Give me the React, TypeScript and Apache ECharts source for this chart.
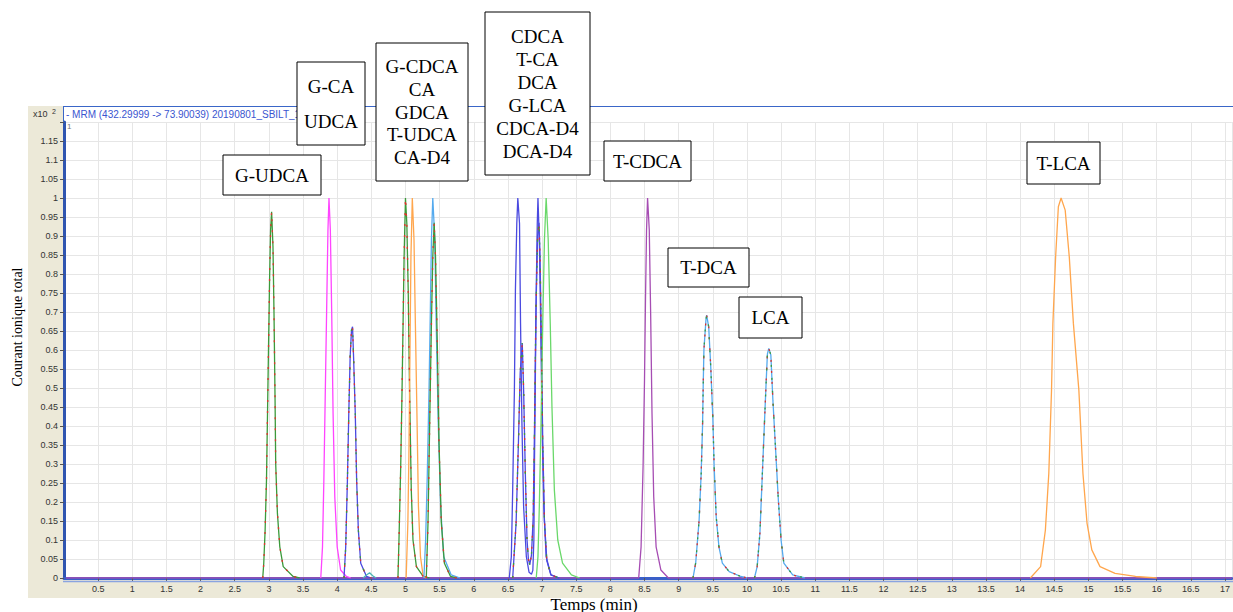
import React, { useEffect, useRef } from "react";
import * as echarts from "echarts";

// ---- data (time in min, intensity x10^2) ----
const xTicksInterval = 0.5;
const yTicksInterval = 0.05;

const gUdca = [[2.91,0],[2.925,0.039],[2.945,0.126],[2.965,0.258],[2.98,0.433],[2.995,0.609],[3.01,0.784],[3.025,0.916],[3.04,0.964],[3.06,0.872],[3.075,0.697],[3.09,0.477],[3.10,0.30],[3.125,0.17],[3.16,0.082],[3.21,0.03],[3.355,0.004],[3.45,0]];
const gCa = [[3.76,0],[3.785,0.082],[3.805,0.258],[3.825,0.477],[3.845,0.697],[3.865,0.916],[3.88,1.0],[3.90,0.916],[3.92,0.697],[3.94,0.433],[3.965,0.214],[4.0,0.082],[4.05,0.021],[4.135,0.004],[4.2,0]];
const udca = [[4.10,0],[4.125,0.082],[4.15,0.258],[4.17,0.433],[4.19,0.582],[4.21,0.653],[4.225,0.661],[4.24,0.582],[4.265,0.433],[4.285,0.258],[4.31,0.126],[4.345,0.039],[4.43,0.004],[4.5,0]];
const bump = [[4.38,0],[4.43,0.008],[4.475,0.014],[4.52,0.006],[4.57,0]];
const gCdca = [[4.89,0],[4.905,0.1],[4.93,0.29],[4.95,0.495],[4.965,0.67],[4.98,0.845],[5.0,1.0],[5.02,0.933],[5.04,0.758],[5.06,0.495],[5.085,0.232],[5.11,0.1],[5.16,0.03],[5.26,0.004],[5.35,0]];
const ca = [[5.01,0],[5.035,0.145],[5.05,0.32],[5.065,0.58],[5.08,0.845],[5.10,1.0],[5.125,0.89],[5.145,0.67],[5.17,0.41],[5.19,0.188],[5.22,0.056],[5.26,0.004],[5.3,0]];
const tUdca = [[5.27,0],[5.295,0.1],[5.32,0.275],[5.345,0.495],[5.365,0.714],[5.38,0.89],[5.40,1.0],[5.43,0.89],[5.45,0.67],[5.48,0.41],[5.515,0.188],[5.56,0.056],[5.67,0.008],[5.8,0]];
const gdca = [[5.305,0],[5.33,0.145],[5.355,0.41],[5.38,0.67],[5.40,0.845],[5.42,0.935],[5.44,0.845],[5.465,0.626],[5.49,0.363],[5.525,0.145],[5.57,0.039],[5.66,0.004],[5.75,0]];
const cdca = [[6.52,0],[6.55,0.056],[6.57,0.232],[6.595,0.495],[6.61,0.758],[6.63,0.933],[6.645,1.0],[6.67,0.933],[6.685,0.67],[6.705,0.41],[6.73,0.188],[6.77,0.056],[6.81,0.015],[6.845,0.01],[6.865,0.02],[6.88,0.1],[6.89,0.32],[6.90,0.495],[6.915,0.758],[6.93,0.933],[6.94,1.0],[6.96,0.89],[6.98,0.67],[7.0,0.41],[7.025,0.188],[7.06,0.056],[7.13,0.008],[7.25,0]];
const cdcaD4 = [[6.57,0],[6.62,0.145],[6.655,0.363],[6.68,0.54],[6.71,0.618],[6.73,0.495],[6.755,0.275],[6.78,0.10],[6.80,0.05],[6.82,0.035],[6.845,0.06],[6.87,0.16],[6.89,0.40],[6.91,0.70],[6.935,0.90],[6.955,0.935],[6.97,0.85],[6.99,0.62],[7.01,0.36],[7.035,0.15],[7.07,0.045],[7.13,0.008],[7.25,0]];
const gLca = [[6.915,0],[6.94,0.056],[6.96,0.188],[6.985,0.41],[7.01,0.67],[7.035,0.89],[7.06,1.0],[7.09,0.89],[7.12,0.67],[7.145,0.45],[7.18,0.232],[7.23,0.1],[7.30,0.039],[7.43,0.008],[7.55,0]];
const tCdca = [[0.03,0],[8.415,0],[8.45,0.082],[8.48,0.30],[8.50,0.52],[8.515,0.74],[8.53,0.916],[8.545,1.0],[8.57,0.916],[8.59,0.697],[8.61,0.433],[8.635,0.214],[8.67,0.082],[8.74,0.021],[8.85,0],[17.1,0]];
const tDca = [[9.21,0],[9.25,0.04],[9.30,0.153],[9.33,0.275],[9.35,0.40],[9.36,0.51],[9.37,0.60],[9.40,0.68],[9.41,0.692],[9.44,0.661],[9.47,0.556],[9.50,0.424],[9.52,0.293],[9.55,0.161],[9.59,0.082],[9.64,0.039],[9.74,0.017],[9.91,0.004],[10.0,0]];
const lca = [[10.11,0],[10.15,0.03],[10.19,0.118],[10.22,0.249],[10.25,0.38],[10.28,0.51],[10.30,0.59],[10.32,0.604],[10.35,0.587],[10.38,0.468],[10.42,0.337],[10.46,0.205],[10.50,0.10],[10.54,0.039],[10.67,0.008],[10.85,0]];
const tLca = [[14.15,0],[14.30,0.03],[14.37,0.126],[14.42,0.275],[14.46,0.495],[14.48,0.67],[14.52,0.845],[14.56,0.977],[14.60,1.0],[14.66,0.968],[14.72,0.845],[14.78,0.67],[14.86,0.495],[14.92,0.275],[14.98,0.144],[15.05,0.074],[15.17,0.03],[15.39,0.012],[15.69,0.004],[16.0,0]];

const boxLabels = [
  ["G-UDCA"],
  ["G-CA", "UDCA"],
  ["G-CDCA", "CA", "GDCA", "T-UDCA", "CA-D4"],
  ["CDCA", "T-CA", "DCA", "G-LCA", "CDCA-D4", "DCA-D4"],
  ["T-CDCA"],
  ["T-DCA"],
  ["LCA"],
  ["T-LCA"],
];

const C = {
  green: "#3b9a3b",
  red: "#e0302a",
  magenta: "#ff44ff",
  blue: "#4a4ae0",
  orange: "#ffa64d",
  lightblue: "#55aaee",
  lime: "#6ad86a",
  purple: "#a64db3",
  teal: "#4bb5b5",
};

const SERIF = '"Liberation Serif", "Times New Roman", serif';
const SANS = '"Liberation Sans", Arial, sans-serif';

function line(name: string, data: number[][], color: string, width = 1.3, dash: any = "solid", z = 2) {
  return {
    type: "line",
    name,
    data,
    showSymbol: false,
    symbol: "none",
    z,
    lineStyle: { color, width, type: dash },
    emphasis: { disabled: true },
  };
}

function box(x: number, y: number, w: number, h: number, lines: string[], lh: number) {
  return {
    type: "group",
    z: 100,
    children: [
      {
        type: "rect",
        z: 100,
        shape: { x, y, width: w, height: h },
        style: { fill: "#fff", stroke: "#000", lineWidth: 1 },
      },
      {
        type: "text",
        z: 101,
        x: x + w / 2,
        y: y + h / 2,
        style: {
          text: lines.join("\n"),
          font: "19px " + SERIF,
          fill: "#000",
          textAlign: "center",
          align: "center",
          textVerticalAlign: "middle",
          verticalAlign: "middle",
          lineHeight: lh,
        },
      },
    ],
  };
}

export default function App() {
  const ref = useRef<HTMLDivElement>(null);
  useEffect(() => {
    if (!ref.current) return;
    const chart = echarts.init(ref.current, undefined, { renderer: "svg" });
    const dashRed = [2, 9];
    const dashGreen = [2, 11];
    chart.setOption({
      animation: false,
      backgroundColor: "#fff",
      grid: { left: 64, right: 0, top: 122, bottom: 34, containLabel: false },
      xAxis: {
        type: "value",
        min: 0,
        max: 17.1,
        interval: xTicksInterval,
        axisLine: { show: true, onZero: false, lineStyle: { color: "#3a5fc8", width: 3 } },
        axisTick: { show: true, length: 4, lineStyle: { color: "#555" } },
        axisLabel: {
          fontSize: 9,
          color: "#333",
          fontFamily: SANS,
          margin: 6,
          showMinLabel: false,
          showMaxLabel: false,
          formatter: (v: number) => String(Math.round(v * 10) / 10),
        },
        splitLine: { show: true, lineStyle: { color: "#e6e6e6", width: 1 } },
      },
      yAxis: {
        type: "value",
        min: 0,
        max: 1.2,
        interval: yTicksInterval,
        axisLine: { show: true, onZero: false, lineStyle: { color: "#2f55b0", width: 3 } },
        axisTick: { show: true, length: 4, lineStyle: { color: "#555" } },
        axisLabel: {
          fontSize: 9,
          color: "#333",
          fontFamily: SANS,
          margin: 6,
          formatter: (v: number) => (v > 1.16 ? "" : String(Math.round(v * 100) / 100)),
        },
        splitLine: { show: true, lineStyle: { color: "#e6e6e6", width: 1 } },
      },
      series: [
        line("T-CDCA", tCdca, C.purple),
        line("G-UDCA", gUdca, C.green),
        line("G-UDCA r", gUdca, C.red, 1.3, dashRed, 3),
        line("G-CA", gCa, C.magenta),
        line("UDCA", udca, C.blue),
        line("UDCA r", udca, C.red, 1.3, dashRed, 3),
        line("UDCA g", udca, C.green, 1.3, dashGreen, 3),
        line("bump", bump, C.teal),
        line("G-CDCA", gCdca, C.green),
        line("G-CDCA r", gCdca, C.red, 1.3, dashRed, 3),
        line("CA", ca, C.orange),
        line("T-UDCA", tUdca, C.lightblue),
        line("GDCA", gdca, C.green, 1.3, "solid", 3),
        line("GDCA r", gdca, C.red, 1.3, dashRed, 4),
        line("CDCA", cdca, C.blue),
        line("CDCA-D4", cdcaD4, C.blue),
        line("CDCA-D4 r", cdcaD4, C.red, 1.3, dashRed, 3),
        line("CDCA-D4 g", cdcaD4, C.green, 1.3, dashGreen, 3),
        line("G-LCA", gLca, C.lime),
        line("T-DCA", tDca, C.lightblue),
        line("T-DCA r", tDca, C.red, 1.3, dashRed, 3),
        line("T-DCA g", tDca, C.green, 1.3, dashGreen, 3),
        line("LCA", lca, C.lightblue),
        line("LCA r", lca, C.red, 1.3, dashRed, 3),
        line("LCA g", lca, C.green, 1.3, dashGreen, 3),
        line("T-LCA", tLca, C.orange),
      ],
      graphic: [
        { type: "rect", z: -20, silent: true, shape: { x: 28, y: 106, width: 1205, height: 492 }, style: { fill: "#ece9d8" } },
        { type: "rect", z: -19, silent: true, shape: { x: 63, y: 106, width: 1170, height: 473 }, style: { fill: "#fff" } },
        { type: "line", z: 5, silent: true, shape: { x1: 63, y1: 106.5, x2: 1233, y2: 106.5 }, style: { stroke: "#3a66c8", lineWidth: 1 } },
        { type: "line", z: 5, silent: true, shape: { x1: 63.5, y1: 106, x2: 63.5, y2: 122 }, style: { stroke: "#3a66c8", lineWidth: 1 } },
        { type: "line", z: 5, silent: true, shape: { x1: 63, y1: 581.5, x2: 1233, y2: 581.5 }, style: { stroke: "#8aa4e0", lineWidth: 1.5 } },
        { type: "text", z: 5, x: 33, y: 114, style: { text: "x10", font: "9px " + SANS, fill: "#333", textVerticalAlign: "middle", verticalAlign: "middle" } },
        { type: "text", z: 5, x: 52, y: 111, style: { text: "2", font: "7px " + SANS, fill: "#333", textVerticalAlign: "middle", verticalAlign: "middle" } },
        { type: "text", z: 5, x: 66, y: 114, style: { text: "- MRM (432.29999 -> 73.90039) 20190801_SBILT_11", font: "10px " + SANS, fill: "#3a55d0", textVerticalAlign: "middle", verticalAlign: "middle" } },
        { type: "text", z: 5, x: 67, y: 126, style: { text: "1", font: "8px " + SANS, fill: "#777", textVerticalAlign: "middle", verticalAlign: "middle" } },
        { type: "text", z: 5, x: 17, y: 327, rotation: Math.PI / 2, style: { text: "Courant ionique total", font: "14px " + SERIF, fill: "#000", textAlign: "center", align: "center", textVerticalAlign: "middle", verticalAlign: "middle" } },
        { type: "text", z: 5, x: 594, y: 604, style: { text: "Temps (min)", font: "17px " + SERIF, fill: "#000", textAlign: "center", align: "center", textVerticalAlign: "middle", verticalAlign: "middle" } },
        box(223, 155, 98, 40, boxLabels[0], 23),
        box(297, 62, 68, 83, boxLabels[1], 35),
        box(376, 43, 92, 138, boxLabels[2], 22.6),
        box(485, 12, 105, 163, boxLabels[3], 23),
        box(604, 141, 87, 40, boxLabels[4], 23),
        box(668, 248, 81, 39, boxLabels[5], 23),
        box(739, 297, 63, 41, boxLabels[6], 23),
        box(1027, 142, 73, 42, boxLabels[7], 23),
      ],
    });
    return () => chart.dispose();
  }, []);
  return <div ref={ref} style={{ position: "fixed", left: 0, top: 0, width: 1233, height: 612 }} />;
}
